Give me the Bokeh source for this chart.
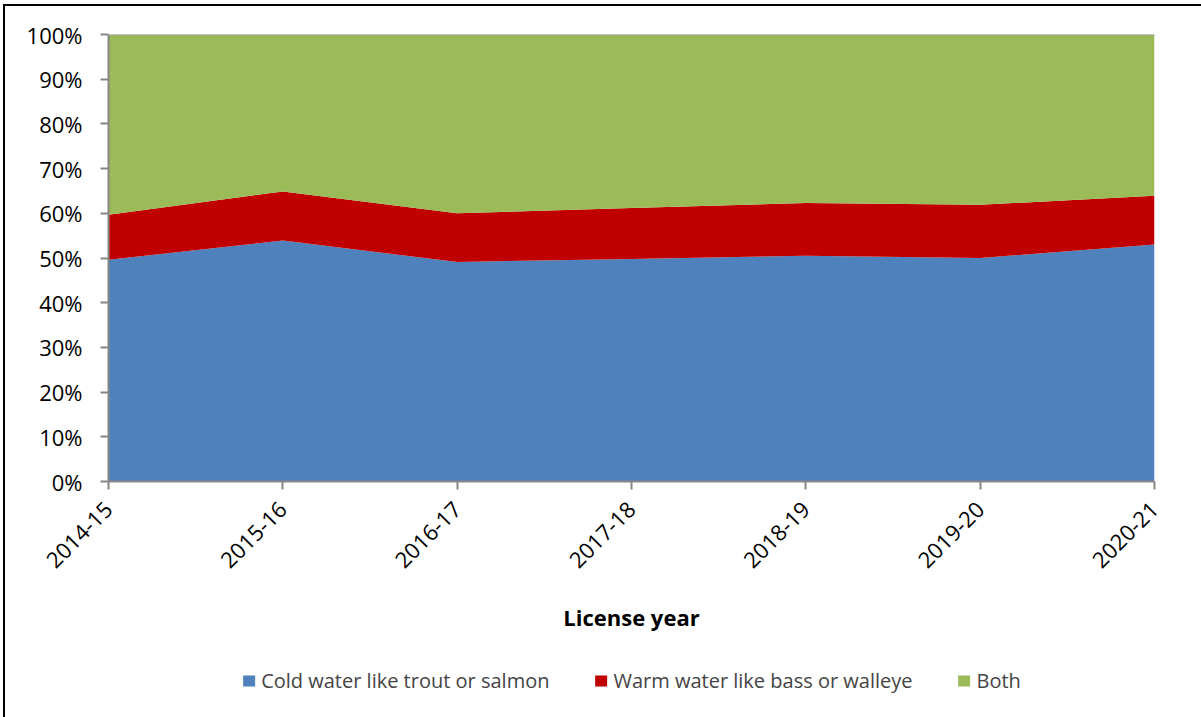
import numpy as np
from bokeh.plotting import figure
from bokeh.layouts import column
from bokeh.models import (ColumnDataSource, Range1d, FixedTicker, NumeralTickFormatter,
                          Legend, LegendItem, Span)
from bokeh.embed import file_html
from bokeh.resources import INLINE

years = ["2014-15", "2015-16", "2016-17", "2017-18", "2018-19", "2019-20", "2020-21"]
cold = [49.6, 53.9, 49.1, 49.8, 50.5, 50.0, 53.0]
warm = [10.1, 11.0, 10.9, 11.4, 11.8, 11.9, 10.9]
both = [40.3, 35.1, 40.0, 38.8, 37.7, 38.1, 36.1]
series_names = ["Cold water like trout or salmon", "Warm water like bass or walleye", "Both"]
colors = ["#4F81BD", "#C00000", "#9BBB59"]

x = list(range(len(years)))
src = ColumnDataSource(dict(
    x=x,
    cold=[v / 100 for v in cold],
    warm=[v / 100 for v in warm],
    both=[v / 100 for v in both],
))

FONT = "Open Sans"

p = figure(frame_width=1046, frame_height=447, output_backend="svg", toolbar_location=None,
           x_range=Range1d(0, len(years) - 1), y_range=Range1d(0, 1),
           min_border_left=103, min_border_right=47, min_border_top=28, min_border_bottom=0)

r = p.varea_stack(stackers=["cold", "warm", "both"], x="x", color=colors, source=src)
p.add_layout(Span(location=1, dimension="width", line_color="#A0A0A0", line_width=2))

p.xgrid.visible = False
p.ygrid.visible = False
p.outline_line_color = None

p.xaxis.ticker = FixedTicker(ticks=x)
p.xaxis.major_label_overrides = {i: y for i, y in enumerate(years)}
p.xaxis.major_label_orientation = np.pi / 4
p.xaxis.axis_label = "License year"
p.xaxis.axis_label_text_font_style = "bold"
p.xaxis.axis_label_text_font = FONT
p.xaxis.axis_label_text_font_size = "22px"
p.xaxis.axis_label_standoff = 24

p.yaxis.ticker = FixedTicker(ticks=[i / 10 for i in range(11)])
p.yaxis.formatter = NumeralTickFormatter(format="0%")

for ax in [p.xaxis[0], p.yaxis[0]]:
    ax.axis_line_color = "#868686"
    ax.axis_line_width = 2
    ax.major_tick_line_color = "#868686"
    ax.major_tick_line_width = 2
    ax.major_tick_out = 8
    ax.major_tick_in = 0
    ax.minor_tick_line_color = None
    ax.major_label_text_font = FONT
    ax.major_label_text_font_size = "22px"
    ax.major_label_text_color = "black"
    ax.axis_label_text_color = "black"
p.yaxis.major_label_standoff = 18
p.xaxis.major_label_standoff = 16

# Legend strip below the chart (its areas lie outside the visible range)
p2 = figure(width=1196, height=90, output_backend="svg", toolbar_location=None,
            x_range=Range1d(0, len(years) - 1), y_range=Range1d(5, 6),
            x_axis_location=None, y_axis_location=None,
            min_border_left=0, min_border_right=0, min_border_top=0, min_border_bottom=0)
p2.xgrid.visible = False
p2.ygrid.visible = False
p2.outline_line_color = None
r2 = p2.varea_stack(stackers=["cold", "warm", "both"], x="x", color=colors, source=src)

legend = Legend(items=[LegendItem(label=n, renderers=[rr]) for n, rr in zip(series_names, r2)],
                orientation="horizontal", location="center",
                label_text_font=FONT, label_text_font_size="20px",
                glyph_width=15, glyph_height=14, spacing=44, label_standoff=5,
                border_line_color=None, background_fill_alpha=0, margin=0, padding=4)
p2.add_layout(legend, "center")

lay = column(p, p2, spacing=0,
             styles={"border-left": "2px solid black", "border-top": "2px solid black",
                     "margin-left": "3px", "margin-top": "4px"})

open("out.html", "w").write(file_html(lay, INLINE))
